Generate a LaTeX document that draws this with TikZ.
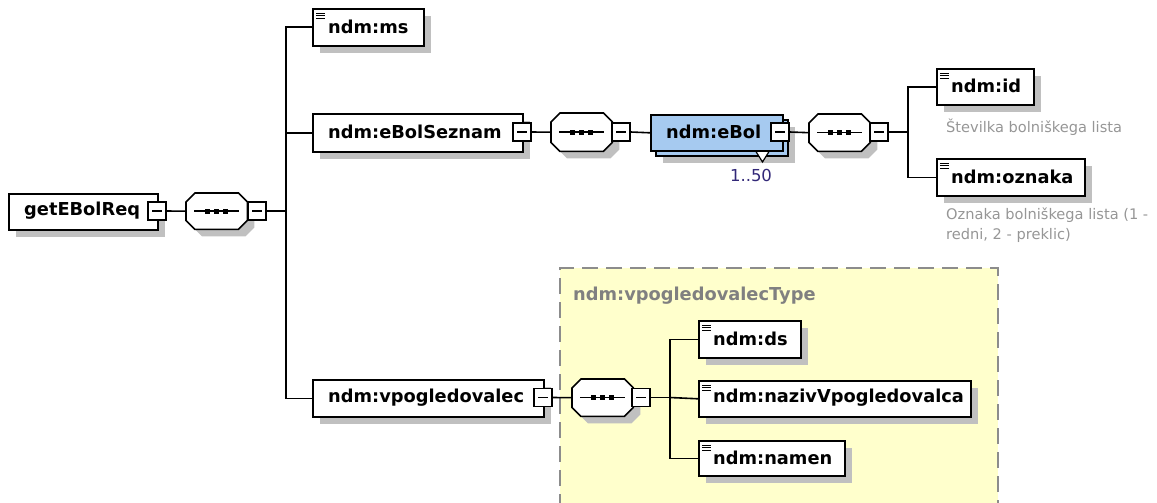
\documentclass[tikz,border=0pt]{standalone}
\usepackage{fontspec}
\setmainfont{DejaVu Sans}
\usetikzlibrary{shadows}
\definecolor{eblue}{RGB}{166,202,240}
\definecolor{ylw}{RGB}{255,255,204}
\definecolor{desc}{RGB}{150,150,150}
\definecolor{typec}{RGB}{128,128,128}
\definecolor{occ}{RGB}{50,40,120}
\definecolor{shd}{RGB}{192,192,192}
\definecolor{dashc}{RGB}{140,140,140}
\newcommand\octpath[3]{([xshift=#2+9pt,yshift=#3]#1.north west) -- ([xshift=#2-9pt,yshift=#3]#1.north east) -- ([xshift=#2,yshift=#3-9pt]#1.north east) -- ([xshift=#2,yshift=#3+9pt]#1.south east) -- ([xshift=#2-9pt,yshift=#3]#1.south east) -- ([xshift=#2+9pt,yshift=#3]#1.south west) -- ([xshift=#2,yshift=#3+9pt]#1.south west) -- ([xshift=#2,yshift=#3-9pt]#1.north west) -- cycle}
\newcommand\octa[1]{%
  \fill[shd] \octpath{#1}{7pt}{-7pt};
  \draw[line width=1.6pt, fill=white] \octpath{#1}{0pt}{0pt};
  \draw[line width=1.5pt] ([xshift=8pt]#1.west) -- ([xshift=-8pt]#1.east);
  \foreach \d in {-9,0,9} \fill[black] ([xshift=\d pt]#1.center) +(-2.6,-2.3) rectangle +(2.6,2.3);
}
\tikzset{
  conn/.style={line width=1.6pt, black},
  shad/.style={drop shadow={shadow xshift=7pt, shadow yshift=-7pt, fill=shd, opacity=1}},
  elem/.style={draw=black, line width=1.6pt, fill=white, rectangle, anchor=north west, inner sep=0pt, shad},
  iconic/.style={path picture={\foreach \d in {4.5,7,9.5} \draw[black, line width=1pt] ([xshift=3.5pt,yshift=-\d pt]path picture bounding box.north west) -- ++(9,0);}},
  seqnode/.style={rectangle, draw=none, minimum width=61pt, minimum height=37pt, inner sep=0pt, anchor=north west},
  minusbox/.style={draw, line width=1.4pt, fill=white, minimum size=18pt, inner sep=0pt,
    path picture={\draw[black, line width=1.3pt] ([xshift=4pt]path picture bounding box.west) -- ([xshift=-4pt]path picture bounding box.east);}},
  lbl/.style={font=\fontsize{17.8}{20}\selectfont\bfseries, inner sep=0pt, anchor=west},
  dsc/.style={font=\fontsize{14.6}{20}\selectfont, text=desc, inner sep=0pt, anchor=north west, align=left},
}
\begin{document}
\begin{tikzpicture}[x=1pt,y=-1pt]
\useasboundingbox (0,0) rectangle (1157,503);
% yellow type region
\fill[ylw] (560,268) rectangle (998,510);
\draw[dashc, line width=1.3pt, dash pattern=on 16pt off 8pt] (560,510) -- (560,268) -- (998,268) -- (998,510);
\node[lbl, text=typec] (typelbl) at (573,296) {ndm:vpogledovalecType};

% root
\node[elem, minimum width=149pt, minimum height=36pt] (root) at (8,193) {};
\node[lbl] (roott) at (24,211) {getEBolReq};
\node[minusbox] (rootm) at (157,211) {};
\node[seqnode, minimum height=36pt] (s1) at (186,193) {};
\octa{s1}
\node[minusbox] (s1m) at (257,211) {};
\coordinate (j0) at (286,211);

% children
\node[elem, iconic, minimum width=111pt, minimum height=37pt] (ms) at (312,8) {};
\node[lbl] (mst) at (328,27) {ndm:ms};

\node[elem, minimum width=210pt, minimum height=38pt] (bs) at (312,113) {};
\node[lbl] (bst) at (328,132) {ndm:eBolSeznam};
\node[minusbox] (bsm) at (522,132) {};
\node[seqnode, minimum height=38pt] (s2) at (551,113) {};
\octa{s2}
\node[minusbox] (s2m) at (621,132) {};

% eBol stacked
\node[elem, fill=eblue, minimum width=132pt, minimum height=36pt] (eb2) at (655,119) {};
\draw[line width=1.2pt, fill=white] (755,150) -- (762.5,162) -- (770,150);
\node[draw=black, line width=1.6pt, fill=eblue, rectangle, anchor=north west, inner sep=0pt, minimum width=132pt, minimum height=36pt] (eb) at (650,114) {};
\node[lbl] (ebt) at (666,132) {ndm:eBol};
\node[minusbox] (ebm) at (780,132) {};
\node[font=\fontsize{16.5}{18}\selectfont, text=occ, inner sep=0pt] (occt) at (751,175) {1..50};
\node[seqnode] (s3) at (809,114) {};
\octa{s3}
\node[minusbox] (s3m) at (879,132) {};
\coordinate (j2) at (908,132);

\node[elem, iconic, minimum width=97pt, minimum height=36pt] (id) at (936,68) {};
\node[lbl] (idt) at (951,86) {ndm:id};
\node[dsc, anchor=west] (idd) at (946,127) {Številka bolniškega lista};
\node[elem, iconic, minimum width=148pt, minimum height=37pt] (oz) at (936,158) {};
\node[lbl] (ozt) at (951,177) {ndm:oznaka};
\node[dsc] (ozd) at (946,208) {Oznaka bolniškega lista (1 -\\redni, 2 - preklic)};

% vpogledovalec
\node[elem, minimum width=231pt, minimum height=37pt] (vp) at (312,379) {};
\node[lbl] (vpt) at (328,397.5) {ndm:vpogledovalec};
\node[minusbox] (vpm) at (543,397.5) {};
\node[seqnode] (s4) at (572,379) {};
\octa{s4}
\node[minusbox] (s4m) at (641,397.5) {};
\coordinate (j3) at (670,397.5);

\node[elem, iconic, minimum width=102pt, minimum height=37pt] (ds) at (698,320) {};
\node[lbl] (dst) at (713,339) {ndm:ds};
\node[elem, iconic, minimum width=272pt, minimum height=36pt] (nz) at (698,380) {};
\node[lbl] (nzt) at (713,398) {ndm:nazivVpogledovalca};
\node[elem, iconic, minimum width=146pt, minimum height=35pt] (nm) at (698,440) {};
\node[lbl] (nmt) at (713,458) {ndm:namen};

% connectors
\draw[conn] (rootm.east) -- (s1.west);
\draw[conn] (s1m.east) -- (j0);
\draw[conn] (j0) |- (ms.west);
\draw[conn] (j0) |- (bs.west);
\draw[conn] (j0) |- (vp.west);
\draw[conn] (bsm.east) -- (s2.west);
\draw[conn] (s2m.east) -- (eb.west);
\draw[conn] (ebm.east) -- (s3.west);
\draw[conn] (s3m.east) -- (j2);
\draw[conn] (j2) |- (id.west);
\draw[conn] (j2) |- (oz.west);
\draw[conn] (vpm.east) -- (s4.west);
\draw[conn] (s4m.east) -- (j3);
\draw[conn] (j3) |- (ds.west);
\draw[conn] (j3) -- (nz.west);
\draw[conn] (j3) |- (nm.west);
\end{tikzpicture}
\end{document}
